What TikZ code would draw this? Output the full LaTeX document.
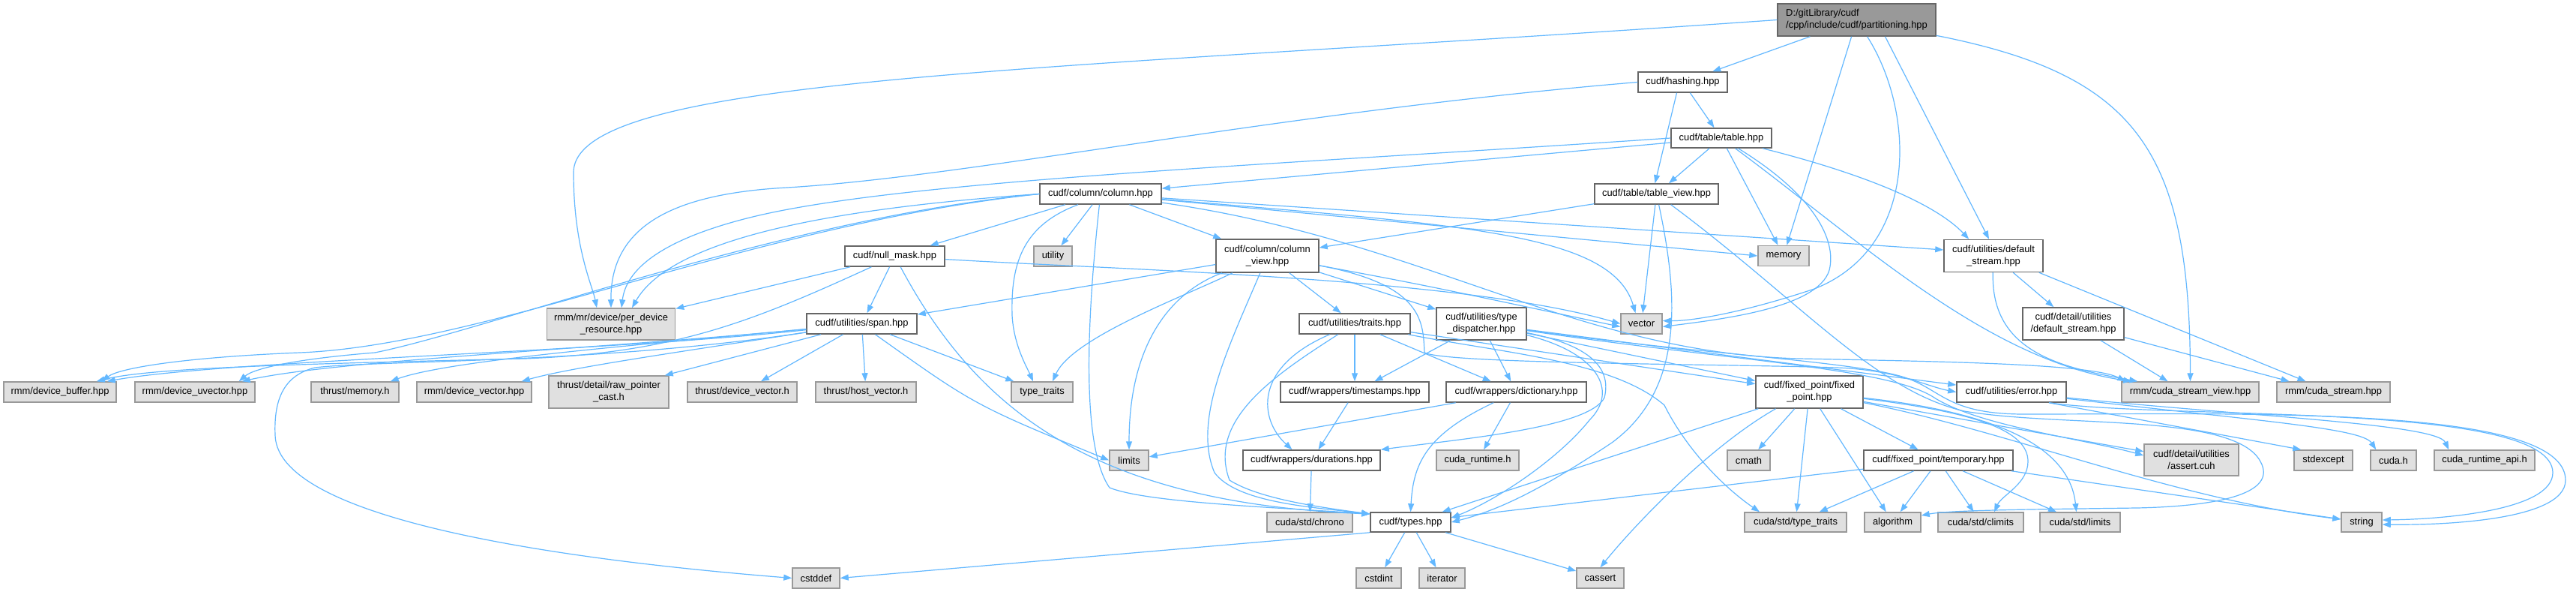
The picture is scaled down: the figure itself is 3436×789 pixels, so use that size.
\documentclass[tikz,border=0pt]{standalone}
\usepackage{fontspec}
\setmainfont{Liberation Sans}
\usetikzlibrary{arrows.meta}
\definecolor{edgeblue}{HTML}{63B8FF}
\definecolor{bord}{HTML}{666666}
\definecolor{bordext}{HTML}{999999}
\definecolor{fillext}{HTML}{E0E0E0}
\definecolor{rootfill}{HTML}{999999}
\newcommand\nd[6]{\node[#1,minimum width=#2pt,minimum height=#3pt] (#4) at (#5) {#6};}
\begin{document}
\begin{tikzpicture}[x=1pt,y=-1pt,
  fbox/.style={draw=bord,fill=white,line width=1.5pt,inner sep=0pt,align=center,font=\fontsize{12.9}{16}\selectfont},
  xbox/.style={fbox,draw=bordext,fill=fillext},
  rbox/.style={fbox,draw=bord,fill=rootfill,align=left},
  dep/.style={draw=edgeblue,line width=1.2pt,-{Triangle[length=11pt,width=8pt]}}]
\fill[white] (0,0) rectangle (3436,789);
\useasboundingbox (0,0) rectangle (3436,789);

\nd{rbox}{211}{43}{P}{2476.5,26.5}{D:/gitLibrary/cudf\\/cpp/include/cudf/partitioning.hpp}
\nd{fbox}{119}{27}{H}{2244.5,109.5}{cudf/hashing.hpp}
\nd{fbox}{134}{26}{T}{2296,184}{cudf/table/table.hpp}
\nd{fbox}{165}{27}{TV}{2209.5,258.5}{cudf/table/table\_view.hpp}
\nd{fbox}{162}{27}{C}{1468,258.5}{cudf/column/column.hpp}
\nd{fbox}{133}{27}{N}{1193.5,341.5}{cudf/null\_mask.hpp}
\nd{xbox}{51}{27}{U}{1404.5,341.5}{utility}
\nd{fbox}{137}{44}{CV}{1690.5,341}{cudf/column/column\\\_view.hpp}
\nd{xbox}{68}{27}{M}{2379,341}{memory}
\nd{fbox}{132}{43}{US}{2659,341}{cudf/utilities/default\\\_stream.hpp}
\nd{xbox}{171}{42}{PD}{815,432}{rmm/mr/device/per\_device\\\_resource.hpp}
\nd{fbox}{147}{27}{SP}{1149.5,431.5}{cudf/utilities/span.hpp}
\nd{xbox}{55}{27}{V}{2189.5,431.5}{vector}
\nd{fbox}{148}{27}{TR}{1807,431.5}{cudf/utilities/traits.hpp}
\nd{fbox}{120}{43}{TD}{1976,431.5}{cudf/utilities/type\\\_dispatcher.hpp}
\nd{fbox}{135}{43}{DS}{2765.5,431.5}{cudf/detail/utilities\\/default\_stream.hpp}
\nd{xbox}{150}{27}{DB}{80,522.5}{rmm/device\_buffer.hpp}
\nd{xbox}{160}{27}{DUV}{260,522.5}{rmm/device\_uvector.hpp}
\nd{xbox}{117}{27}{TM}{473.5,522.5}{thrust/memory.h}
\nd{xbox}{153}{27}{DVH}{632.5,522.5}{rmm/device\_vector.hpp}
\nd{xbox}{160}{43}{RP}{812,522.5}{thrust/detail/raw\_pointer\\\_cast.h}
\nd{xbox}{146}{27}{TDV}{990,522.5}{thrust/device\_vector.h}
\nd{xbox}{134}{27}{THV}{1155,522.5}{thrust/host\_vector.h}
\nd{xbox}{82}{27}{TT}{1390,522.5}{type\_traits}
\nd{fbox}{198}{27}{TS}{1807,522.5}{cudf/wrappers/timestamps.hpp}
\nd{fbox}{187}{27}{DI}{2022.5,522.5}{cudf/wrappers/dictionary.hpp}
\nd{fbox}{143}{43}{FP}{2413.5,522.5}{cudf/fixed\_point/fixed\\\_point.hpp}
\nd{fbox}{146}{27}{ER}{2683,522.5}{cudf/utilities/error.hpp}
\nd{xbox}{183}{27}{CSV}{2921.5,522.5}{rmm/cuda\_stream\_view.hpp}
\nd{xbox}{151}{27}{CS}{3112.5,522.5}{rmm/cuda\_stream.hpp}
\nd{xbox}{52}{27}{LIM}{1506,613.5}{limits}
\nd{fbox}{183}{27}{DU}{1749.5,613.5}{cudf/wrappers/durations.hpp}
\nd{xbox}{110}{27}{CR}{1971,613.5}{cuda\_runtime.h}
\nd{xbox}{57}{27}{CM}{2332.5,613.5}{cmath}
\nd{fbox}{199}{27}{TMP}{2585.5,613.5}{cudf/fixed\_point/temporary.hpp}
\nd{xbox}{126}{42}{AS}{2923,613}{cudf/detail/utilities\\/assert.cuh}
\nd{xbox}{78}{27}{SE}{3099,613.5}{stdexcept}
\nd{xbox}{61}{27}{CH}{3192.5,613.5}{cuda.h}
\nd{xbox}{134}{27}{CRA}{3314,613.5}{cuda\_runtime\_api.h}
\nd{xbox}{114}{26}{CHR}{1747,696}{cuda/std/chrono}
\nd{fbox}{107}{26}{TY}{1881.5,696}{cudf/types.hpp}
\nd{xbox}{136}{26}{CTT}{2395,696}{cuda/std/type\_traits}
\nd{xbox}{75}{26}{ALG}{2524.5,696}{algorithm}
\nd{xbox}{114}{26}{CCL}{2642,696}{cuda/std/climits}
\nd{xbox}{107}{26}{CLIM}{2774.5,696}{cuda/std/limits}
\nd{xbox}{54}{26}{STR}{3150,696}{string}
\nd{xbox}{63}{27}{CSD}{1088.5,770.5}{cstddef}
\nd{xbox}{60}{27}{CI}{1839,770.5}{cstdint}
\nd{xbox}{61}{27}{IT}{1923.5,770.5}{iterator}
\nd{xbox}{63}{27}{CA}{2134.5,770.5}{cassert}

% partitioning.hpp
\draw[dep] (P) -- (H);
\draw[dep] (P.west) .. controls (1400,95) and (765,100) .. (765,230) .. controls (765,330) and (790,380) .. ([xshift=-19pt]PD.north);
\draw[dep] (P) -- (M);
\draw[dep] (P) .. controls (2555,150) and (2560,330) .. (2420,385) .. controls (2330,415) and (2260,428) .. ([yshift=4pt]V.east);
\draw[dep] ([xshift=38pt]P.south) -- ([xshift=-6pt]US.north);
\draw[dep] (P) .. controls (2850,100) and (2921,200) .. (CSV.north);
% hashing.hpp
\draw[dep] (H) -- (T);
\draw[dep] ([xshift=-8pt]H.south) -- ([xshift=-2pt]TV.north);
\draw[dep] (H.west) .. controls (1700,150) and (1300,235) .. (1050,250) .. controls (900,258) and (814,300) .. (PD.north);
% table.hpp
\draw[dep] (T) -- (C);
\draw[dep] (T) -- (TV);
\draw[dep] (T) -- (M);
\draw[dep] (T) .. controls (2420,260) and (2450,320) .. (2440,360) .. controls (2425,410) and (2300,425) .. ([yshift=-4pt]V.east);
\draw[dep] (T) .. controls (2480,230) and (2580,270) .. ([xshift=34pt]US.north west);
\draw[dep] (T) .. controls (2480,320) and (2650,480) .. ([xshift=14pt]CSV.north west);
\draw[dep] (T.west) .. controls (1700,220) and (1200,240) .. (1000,290) .. controls (880,320) and (835,360) .. ([xshift=14pt]PD.north);
% column.hpp
\draw[dep] (C) -- (CV);
\draw[dep] (C) -- (N);
\draw[dep] (C) -- (U);
\draw[dep] ([xshift=-30pt]C.south) .. controls (1365,300) and (1348,350) .. (1350,420) .. controls (1352,460) and (1370,490) .. ([xshift=-12pt]TT.north);
\draw[dep] (C) .. controls (1447,450) and (1445,600) .. (1480,650) .. controls (1530,670) and (1700,676) .. ([yshift=11pt]TY.west);
\draw[dep] (C) .. controls (1950,300) and (2150,310) .. ([xshift=-8pt]V.north);
\draw[dep] (C) -- (M.west);
\draw[dep] (C) -- ([yshift=8pt]US.west);
\draw[dep] (C) .. controls (1900,320) and (2100,470) .. (2400,478) .. controls (2600,482) and (2790,485) .. ([xshift=6pt]CSV.north west);
\draw[dep] (C.west) .. controls (1000,300) and (650,460) .. (400,470) .. controls (250,476) and (160,490) .. ([xshift=-20pt]DB.north east);
\draw[dep] (C.west) .. controls (1050,290) and (650,440) .. (500,470) .. controls (400,478) and (340,490) .. ([xshift=-22pt]DUV.north east);
\draw[dep] (C.west) .. controls (1150,275) and (900,310) .. ([xshift=28pt]PD.north);
% null_mask.hpp
\draw[dep] (N) .. controls (1300,540) and (1450,670) .. ([yshift=11pt]TY.west);
\draw[dep] (N) -- (SP);
\draw[dep] (N) .. controls (1000,430) and (900,470) .. (700,478) .. controls (400,485) and (200,490) .. ([xshift=-27pt]DB.north east);
\draw[dep] (N) -- (PD);
\draw[dep] (N) .. controls (1500,360) and (1950,370) .. (V.west);
% table_view.hpp
\draw[dep] (TV) -- (CV);
\draw[dep] (TV) -- (V);
\draw[dep] (TV) .. controls (2240,400) and (2245,520) .. (2150,590) .. controls (2060,650) and (2000,680) .. (TY.east);
\draw[dep] (TV) .. controls (2400,400) and (2500,520) .. (2620,548) .. controls (2750,570) and (2980,550) .. (3015,615) .. controls (3040,660) and (2950,675) .. (2850,677) .. controls (2700,679) and (2600,680) .. ([yshift=9pt]ALG.east);
% column_view.hpp
\draw[dep] (CV) -- (SP);
\draw[dep] (CV) .. controls (1560,390) and (1506,460) .. (LIM.north);
\draw[dep] (CV) .. controls (1580,395) and (1430,450) .. ([xshift=14pt]TT.north);
\draw[dep] (CV) .. controls (1640,460) and (1590,560) .. (1620,630) .. controls (1650,670) and (1750,676) .. ([yshift=11pt]TY.west);
\draw[dep] (CV) -- (TR);
\draw[dep] (CV) -- (TD);
\draw[dep] (CV) .. controls (1900,380) .. ([yshift=-4pt]V.west);
\draw[dep] (CV) .. controls (1900,380) and (1898,430) .. (1900,470) .. controls (1930,485) and (2300,485) .. (2450,490) .. controls (2530,493) and (2570,515) .. (ER.west);
% span.hpp
\draw[dep] (SP) .. controls (800,470) and (300,480) .. ([xshift=-13pt]DB.north east);
\draw[dep] (SP) .. controls (800,465) and (450,480) .. ([xshift=-18pt]DUV.north east);
\draw[dep] (SP) .. controls (850,460) and (600,480) .. ([xshift=-12pt]TM.north east);
\draw[dep] (SP) .. controls (900,470) and (760,490) .. ([xshift=-14pt]DVH.north east);
\draw[dep] (SP) -- ([xshift=-6pt]RP.north east);
\draw[dep] (SP) -- ([xshift=25pt]TDV.north);
\draw[dep] (SP) -- (THV);
\draw[dep] (SP) -- (TT);
\draw[dep] ([xshift=18pt]SP.south) .. controls (1300,540) .. (LIM.west);
\draw[dep] (SP) .. controls (800,485) and (500,480) .. (420,490) .. controls (380,500) and (365,530) .. (367,580) .. controls (370,700) and (800,750) .. (CSD.west);
% traits.hpp
\draw[dep] (TR) -- (TS);
\draw[dep] (TR) -- (DI);
\draw[dep] (TR) .. controls (1670,490) and (1680,560) .. ([xshift=-26pt]DU.north);
\draw[dep] (TR) .. controls (1700,500) and (1610,560) .. (1640,640) .. controls (1680,665) and (1760,676) .. ([yshift=11pt]TY.west);
\draw[dep] (TR) -- (FP);
\draw[dep] (TR) .. controls (2000,470) and (2150,480) .. (2220,540) .. controls (2250,600) and (2300,650) .. ([xshift=-48pt]CTT.north);
% type_dispatcher.hpp
\draw[dep] (TD) -- (TS);
\draw[dep] (TD) -- (DI);
\draw[dep] (TD) .. controls (2120,460) and (2150,490) .. (2140,530) .. controls (2120,570) and (1950,585) .. (DU.north east);
\draw[dep] (TD) .. controls (2130,470) and (2160,520) .. (2120,560) .. controls (2080,610) and (2000,665) .. ([yshift=-8pt]TY.north east);
\draw[dep] (TD) -- (FP);
\draw[dep] (TD) -- (ER);
\draw[dep] (TD) .. controls (2300,480) and (2520,490) .. (2580,530) .. controls (2640,568) and (2780,585) .. ([yshift=6pt]AS.west);
\draw[dep] (TD) .. controls (2250,470) and (2450,480) .. (2530,500) .. controls (2590,515) and (2590,552) .. (2700,552) .. controls (3000,552) and (3422,540) .. (3422,640) .. controls (3422,695) and (3250,700) .. ([yshift=-3pt]STR.east);
% error.hpp
\draw[dep] ([xshift=50pt]ER.south) -- ([xshift=10pt]SE.north west);
\draw[dep] (ER) .. controls (3000,560) and (3150,570) .. ([xshift=8pt]CH.north west);
\draw[dep] (ER) .. controls (3000,555) and (3250,565) .. ([xshift=20pt]CRA.north west);
\draw[dep] ([xshift=50pt]ER.south) .. controls (2900,560) and (3405,535) .. (3405,630) .. controls (3405,680) and (3260,692) .. ([yshift=3pt]STR.east);
% fixed_point.hpp
\draw[dep] (FP) -- (TY);
\draw[dep] ([xshift=-45pt]FP.south) .. controls (2280,595) and (2180,700) .. (CA.north);
\draw[dep] (FP) -- (CM);
\draw[dep] (FP) -- (CTT);
\draw[dep] (FP) -- (ALG);
\draw[dep] (FP) -- (TMP);
\draw[dep] (FP) -- (AS);
\draw[dep] (FP) .. controls (2640,550) and (2705,575) .. (2705,615) .. controls (2705,645) and (2670,660) .. ([xshift=18pt]CCL.north);
\draw[dep] (FP) .. controls (2650,548) and (2760,590) .. ([xshift=-5pt]CLIM.north);
\draw[dep] (FP) .. controls (2680,575) and (2900,665) .. ([yshift=4pt]STR.west);
% temporary.hpp
\draw[dep] (TMP) -- (TY);
\draw[dep] (TMP) -- (CTT);
\draw[dep] (TMP) -- (ALG);
\draw[dep] (TMP) -- (CCL);
\draw[dep] (TMP) -- (CLIM);
\draw[dep] (TMP) -- (STR);
% wrappers
\draw[dep] (DI) -- (LIM);
\draw[dep] (DI) .. controls (1900,580) and (1885,620) .. (TY.north);
\draw[dep] (DI) -- (CR);
\draw[dep] (TS) -- (DU);
\draw[dep] (DU) -- (CHR);
% types.hpp
\draw[dep] (TY.south west) -- (CSD.east);
\draw[dep] (TY) -- (CI);
\draw[dep] (TY) -- (IT);
\draw[dep] (TY) -- (CA);
% default streams
\draw[dep] (US) -- (DS);
\draw[dep] ([xshift=-6pt]US.south east) -- ([xshift=-37pt]CS.north);
\draw[dep] (US) .. controls (2655,470) and (2750,490) .. ([xshift=22pt]CSV.north west);
\draw[dep] (DS) -- ([xshift=-30pt]CSV.north);
\draw[dep] (DS) -- ([xshift=-59pt]CS.north);
\end{tikzpicture}
\end{document}
